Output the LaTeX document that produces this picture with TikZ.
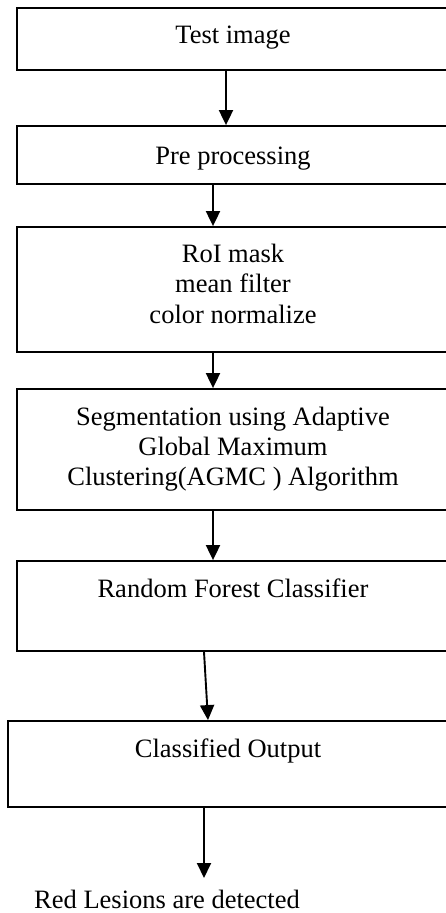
\documentclass[tikz,border=0pt]{standalone}
\usepackage{fontspec}
\setmainfont{Liberation Serif}
\usetikzlibrary{arrows.meta}
\begin{document}
\begin{tikzpicture}[x=1pt,y=-1pt,
  stagebox/.style={draw=black,line width=1.8pt,rectangle,inner sep=0pt},
  lbl/.style={anchor=base,inner sep=0pt,font=\fontsize{26.5}{30}\selectfont},
  flow/.style={line width=1.9pt,-{Triangle[length=15pt,width=14pt]}}]
\useasboundingbox (0,0) rectangle (446,913);

% process stages (right sides run past the page edge)
\node[stagebox,minimum width=446pt,minimum height=62pt]  (b1) at (240,39) {};
\node[stagebox,minimum width=446pt,minimum height=58pt]  (b2) at (240,155) {};
\node[stagebox,minimum width=446pt,minimum height=125pt] (b3) at (240,289.5) {};
\node[stagebox,minimum width=446pt,minimum height=121pt] (b4) at (240,449.5) {};
\node[stagebox,minimum width=446pt,minimum height=90pt]  (b5) at (240,606) {};
\node[stagebox,minimum width=462pt,minimum height=86pt]  (b6) at (239,764) {};

% stage labels
\node[lbl] (t1) at (233,43) {Test image};
\node[lbl] (t2) at (233,164) {Pre processing};
\node[lbl] (t3a) at (233,262) {RoI mask};
\node[lbl] (t3b) at (233,292) {mean filter};
\node[lbl] (t3c) at (233,323) {color normalize};
\node[lbl] (t4a) at (233,425) {Segmentation using Adaptive};
\node[lbl] (t4b) at (233,455) {Global Maximum};
\node[lbl] (t4c) at (233,485) {Clustering(AGMC ) Algorithm};
\node[lbl] (t5) at (233,597) {Random Forest Classifier};
\node[lbl] (t6) at (228,757) {Classified Output};
\node[lbl] (res) at (167,908) {Red Lesions are detected};
\coordinate (resin) at (204,878);

% connectors
\draw[flow] ([xshift=-14pt]b1.south) -- ([xshift=-14pt]b2.north);
\draw[flow] ([xshift=-27pt]b2.south) -- ([xshift=-27pt]b3.north);
\draw[flow] ([xshift=-27pt]b3.south) -- ([xshift=-27pt]b4.north);
\draw[flow] ([xshift=-27pt]b4.south) -- ([xshift=-27pt]b5.north);
\draw[flow] ([xshift=-36pt]b5.south) -- ([xshift=-31pt]b6.north);
\draw[flow] ([xshift=-35pt]b6.south) -- (resin);
\end{tikzpicture}
\end{document}
